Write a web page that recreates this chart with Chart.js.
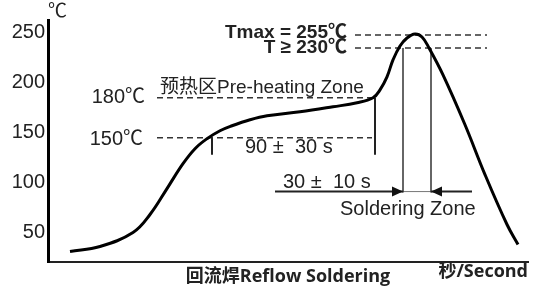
<!DOCTYPE html>
<html>
<head>
<meta charset="utf-8">
<script src="https://cdn.jsdelivr.net/npm/chart.js@4"></script>
<style>
  body { margin: 0; background: #fff; }
  #wrap { width: 543px; height: 292px; position: relative; }
</style>
</head>
<body>
<div id="wrap"><canvas id="reflowChart"></canvas></div>
<script>
// Reflow profile (x = time in arbitrary units, y = temperature)
const curveTime = [22, 52, 85, 102, 119, 135, 147, 159, 172, 184, 202, 219, 252, 285, 309, 325, 332, 339, 345, 352, 359, 367, 374, 381, 395, 417, 437, 459, 470];
const curveTemp = [31, 36, 50, 68, 94, 119, 134, 144, 152, 157, 163, 167, 171, 176, 180, 185, 193, 206, 223, 237, 245, 249, 246, 235, 208, 158, 108, 58, 38];

const yTicks = [50, 100, 150, 200, 250];

// marker levels as drawn (the picture is not to scale)
const preheatLevels = [145, 185];   // 150°C, 180°C
const peakLevels = [248, 235];      // Tmax, T >= 230°C
const preheatSpan = [164, 327];     // start / end of pre-heating
const solderSpan = [355, 383];      // time above 230°C
const arrowSpan = [227, 424];
const arrowLevel = 91;

const ink = "#222";
const textFont = 'Arial, "Liberation Sans", "Noto Sans CJK SC", sans-serif';
const boldFont = '"Open Sans", "Noto Sans CJK SC", sans-serif';

function seg(x1, y1, x2, y2, opts) {
    return Object.assign({
        data: [{ x: x1, y: y1 }, { x: x2, y: y2 }],
        showLine: true, pointRadius: 0, borderColor: ink, borderWidth: 1.5, fill: false
    }, opts || {});
}

const dash = { borderDash: [6, 4], borderColor: "#333", borderWidth: 1.5 };

const datasets = [
    {
        data: curveTime.map((t, i) => ({ x: t, y: curveTemp[i] })),
        showLine: true, pointRadius: 0, borderColor: "#000", borderWidth: 3,
        tension: 0.4, fill: false
    },
    seg(109, preheatLevels[1], preheatSpan[1], preheatLevels[1], dash),
    seg(109, preheatLevels[0], preheatSpan[1] - 3, preheatLevels[0], dash),
    seg(307, peakLevels[0], 439, peakLevels[0], dash),
    seg(307, peakLevels[1], 439, peakLevels[1], dash),
    seg(preheatSpan[0], preheatLevels[0], preheatSpan[0], 128, { borderWidth: 2 }),
    seg(preheatSpan[1], preheatLevels[1], preheatSpan[1], 128, { borderWidth: 2 }),
    seg(solderSpan[0], peakLevels[1], solderSpan[0], arrowLevel - 1, { borderWidth: 1.5, borderColor: "#333" }),
    seg(solderSpan[1], peakLevels[1], solderSpan[1], arrowLevel - 1, { borderWidth: 1.5, borderColor: "#333" }),
    seg(arrowSpan[0], arrowLevel, solderSpan[0], arrowLevel, { borderWidth: 2 }),
    seg(solderSpan[0], arrowLevel, solderSpan[1], arrowLevel, { borderWidth: 1, borderColor: "#777" }),
    seg(solderSpan[1], arrowLevel, arrowSpan[1], arrowLevel, { borderWidth: 2 })
];

const notes = [
    { text: "180℃", x: 97, y: 185, align: "right" },
    { text: "150℃", x: 95, y: 143, align: "right" },
    { text: "预热区Pre-heating Zone", x: 112, y: 195, align: "left", size: 19 },
    { text: "90 ±  30 s", x: 197, y: 135, align: "left" },
    { text: "30 ±  10 s", x: 235, y: 100, align: "left" },
    { text: "Soldering Zone", x: 292, y: 73, align: "left" },
    { text: "Tmax = 255℃", x: 299, y: 250, align: "right", bold: true, size: 19 },
    { text: "T ≥ 230℃", x: 299, y: 235, align: "right", bold: true, size: 19 }
];

const annotate = {
    id: "annotate",
    afterDatasetsDraw(chart) {
        const { ctx, scales: { x, y } } = chart;
        ctx.save();
        ctx.fillStyle = ink;
        ctx.textBaseline = "middle";
        notes.forEach(n => {
            ctx.font = (n.bold ? "bold " : "") + (n.size || 20) + "px " + textFont;
            ctx.textAlign = n.align;
            ctx.fillText(n.text, x.getPixelForValue(n.x), y.getPixelForValue(n.y));
        });

        // arrowheads pointing at the soldering zone
        const ay = y.getPixelForValue(arrowLevel);
        const head = (tip, dir) => {
            const px = x.getPixelForValue(tip);
            ctx.beginPath();
            ctx.moveTo(px, ay);
            ctx.lineTo(px - dir * 11, ay - 5);
            ctx.lineTo(px - dir * 11, ay + 5);
            ctx.closePath();
            ctx.fill();
        };
        ctx.fillStyle = "#111";
        head(solderSpan[0], 1);
        head(solderSpan[1], -1);

        // unit marks
        ctx.fillStyle = ink;
        ctx.font = "19px " + textFont;
        ctx.textAlign = "left";
        ctx.fillText("℃", chart.chartArea.left, 12);
        ctx.font = "bold 18px " + boldFont;
        ctx.textAlign = "right";
        ctx.fillText("秒/Second", chart.chartArea.right, 272);
        ctx.restore();
    }
};

new Chart(document.getElementById("reflowChart"), {
    type: "scatter",
    data: { datasets: datasets },
    plugins: [annotate],
    options: {
        responsive: true,
        maintainAspectRatio: false,
        animation: false,
        layout: { padding: { top: 20, right: 15, bottom: 0, left: 0 } },
        plugins: { legend: { display: false }, tooltip: { enabled: false } },
        scales: {
            x: {
                type: "linear", min: 0, max: 480,
                grid: { display: false, drawTicks: false },
                border: { display: true, color: "#222", width: 2 },
                ticks: { display: false },
                title: {
                    display: true, text: "回流焊Reflow Soldering", color: ink,
                    font: { family: boldFont, size: 18, weight: "bold", lineHeight: 1.2 },
                    padding: { top: 4, bottom: 4 }
                }
            },
            y: {
                min: 20, max: 263,
                grid: { display: false, drawTicks: false },
                border: { display: true, color: "#000", width: 3 },
                afterBuildTicks: s => { s.ticks = yTicks.map(v => ({ value: v })); },
                afterFit: s => { s.width = 48; },
                ticks: { color: ink, padding: 3, font: { family: textFont, size: 20 } }
            }
        }
    }
});
</script>
</body>
</html>
